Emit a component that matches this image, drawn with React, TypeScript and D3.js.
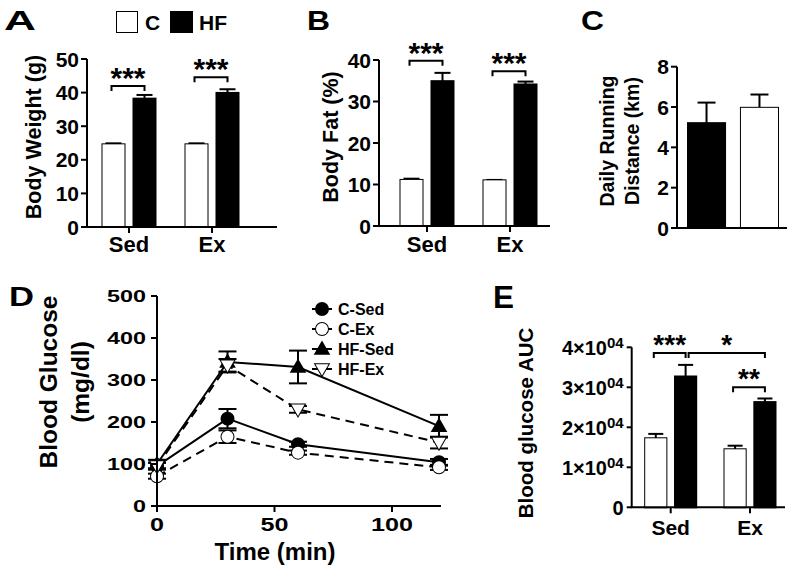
import React from "react";
import * as d3 from "d3";

const FONT = "'Liberation Sans', Arial, Helvetica, sans-serif";

// ---------- data ----------
const groups = ["Sed", "Ex"];
const diets = ["C", "HF"];

const weightC = [24.6, 24.6];
const weightCErr = [0.3, 0.3];
const weightHF = [38.2, 39.9];
const weightHFErr = [1.1, 1.1];
const weightTicks = [0, 10, 20, 30, 40, 50];

const fatC = [11.1, 11.0];
const fatCErr = [0.3, 0.1];
const fatHF = [34.9, 34.1];
const fatHFErr = [2.0, 0.7];
const fatTicks = [0, 10, 20, 30, 40];

const runGroups = ["HF", "C"];
const runMean = [5.2, 5.96];
const runErr = [1.02, 0.66];
const runTicks = [0, 2, 4, 6, 8];

const times = [0, 30, 60, 120];
const timeTicks = [0, 50, 100];
const glucoseTicks = [0, 100, 200, 300, 400, 500];
const glucSeries = ["C-Sed", "C-Ex", "HF-Sed", "HF-Ex"];
const glucCSed = [95, 208, 147, 104];
const glucCSedErr = [8, 23, 6, 8];
const glucCEx = [71, 165, 127, 92];
const glucCExErr = [6, 15, 5, 6];
const glucHFSed = [100, 343, 331, 190];
const glucHFSedErr = [10, 25, 39, 27];
const glucHFEx = [95, 335, 230, 151];
const glucHFExErr = [8, 15, 8, 14];

const aucC = [17250, 14500];
const aucCErr = [1100, 900];
const aucHF = [32700, 26300];
const aucHFErr = [2900, 900];
const aucTicks = [0, 10000, 20000, 30000, 40000];

const sigWeight = [
  { a: ["Sed", "C"], b: ["Sed", "HF"], level: 42, label: "***" },
  { a: ["Ex", "C"], b: ["Ex", "HF"], level: 44.6, label: "***" },
];
const sigFat = [
  { a: ["Sed", "C"], b: ["Sed", "HF"], level: 39.8, label: "***" },
  { a: ["Ex", "C"], b: ["Ex", "HF"], level: 37.3, label: "***" },
];
const sigAuc = [
  { a: ["Sed", "C"], b: ["Sed", "HF"], level: 38600, label: "***" },
  { a: ["Sed", "HF"], b: ["Ex", "HF"], level: 38600, label: "*" },
  { a: ["Ex", "C"], b: ["Ex", "HF"], level: 30000, label: "**" },
];

// ---------- helpers ----------
function PanelLetter({ x, y, text, size, width }: any) {
  return (
    <text x={x} y={y} fontSize={size} textLength={width} lengthAdjust="spacingAndGlyphs">
      {text}
    </text>
  );
}

function YTicks({ x, scale, ticks, fontSize, gap, fmt, tickLen = 6, charW }: any) {
  return (
    <g>
      {ticks.map((t: number) => {
        const lab = fmt ? fmt(t) : String(t);
        return (
          <g key={t}>
            <line x1={x - tickLen} x2={x} y1={scale(t)} y2={scale(t)} stroke="#000" strokeWidth={2} />
            {typeof lab === "string" ? (
              <text
                x={x - gap}
                y={scale(t)}
                dy="0.36em"
                textAnchor="end"
                fontSize={fontSize}
                {...(charW ? { textLength: lab.length * charW, lengthAdjust: "spacingAndGlyphs" } : {})}
              >
                {lab}
              </text>
            ) : (
              <text x={x - gap} y={scale(t)} dy="0.36em" textAnchor="end" fontSize={fontSize}>
                {lab}
              </text>
            )}
          </g>
        );
      })}
    </g>
  );
}

function RotLabel({ x, y, text, size }: any) {
  return (
    <text transform={`translate(${x},${y}) rotate(-90)`} textAnchor="middle" dy="0.36em" fontSize={size}>
      {text}
    </text>
  );
}

function BarGroupPanel({ L, cMean, cErr, hfMean, hfErr, ticks, sig, fmt, tickFont, sigFont, catFont, catBase, cap }: any) {
  const y = d3.scaleLinear().domain([0, L.max]).range([L.y0, L.y1]);
  const x = d3.scalePoint().domain(groups).range([L.c0, L.c1]);
  const inner = d3.scaleBand().domain(diets).range([-L.half, L.half]).paddingInner(L.pad);
  const bw = inner.bandwidth();
  const cx = (g: string, d: string) => (x(g) as number) + (inner(d) as number) + bw / 2;
  const bars = groups.flatMap((g, i) =>
    diets.map((d) => ({ g, d, v: d === "C" ? cMean[i] : hfMean[i], e: d === "C" ? cErr[i] : hfErr[i] }))
  );
  return (
    <g>
      {bars.map((b) => {
        const c = cx(b.g, b.d);
        return (
          <g key={b.g + b.d}>
            <line x1={c} x2={c} y1={y(b.v)} y2={y(b.v + b.e)} stroke="#000" strokeWidth={2} />
            <line x1={c - cap / 2} x2={c + cap / 2} y1={y(b.v + b.e)} y2={y(b.v + b.e)} stroke="#000" strokeWidth={2} />
            <rect
              x={c - bw / 2}
              y={y(b.v)}
              width={bw}
              height={y(0) - y(b.v)}
              fill={b.d === "C" ? "#fff" : "#000"}
              stroke="#000"
              strokeWidth={2}
            />
          </g>
        );
      })}
      <line x1={L.axisX} x2={L.axisX} y1={y(L.max)} y2={y(0)} stroke="#000" strokeWidth={2} />
      <line x1={L.axisX - 1} x2={L.axisEnd} y1={y(0)} y2={y(0)} stroke="#000" strokeWidth={2} />
      <YTicks x={L.axisX} scale={y} ticks={ticks} fontSize={tickFont} gap={L.gap} fmt={fmt} tickLen={L.tickLen ?? 6} />
      {groups.map((g) => (
        <g key={g}>
          <line x1={x(g)} x2={x(g)} y1={y(0)} y2={y(0) + 6} stroke="#000" strokeWidth={2} />
          <text x={x(g)} y={catBase} textAnchor="middle" fontSize={catFont}>
            {g}
          </text>
        </g>
      ))}
      {sig.map((s: any, i: number) => {
        const x1 = cx(s.a[0], s.a[1]) - 2 + (s.a[1] === "HF" ? 5 : 0);
        const x2 = cx(s.b[0], s.b[1]);
        const yy = y(s.level);
        return (
          <g key={i}>
            <path d={`M${x1},${yy + 5}V${yy}H${x2}V${yy + 5}`} fill="none" stroke="#000" strokeWidth={2} />
            <text x={(x1 + x2) / 2} y={yy - 15 + 0.56 * sigFont} textAnchor="middle" fontSize={sigFont}>
              {s.label}
            </text>
          </g>
        );
      })}
    </g>
  );
}

function PanelA() {
  const L = { axisX: 87, axisEnd: 277, y0: 227, y1: 59, max: 50, c0: 129, c1: 212, half: 26.5, pad: 0.29, gap: 8 };
  return (
    <g>
      <PanelLetter x={4} y={30} text="A" size={28} width={32} />
      <rect x={117} y={12} width={20} height={20} fill="#fff" stroke="#000" strokeWidth={2} />
      <text x={145} y={30} fontSize={21}>C</text>
      <rect x={171} y={12} width={21} height={20} fill="#000" stroke="#000" strokeWidth={2} />
      <text x={199} y={30} fontSize={21}>HF</text>
      <RotLabel x={33} y={137} text="Body Weight (g)" size={21.5} />
      <BarGroupPanel
        L={L}
        cMean={weightC}
        cErr={weightCErr}
        hfMean={weightHF}
        hfErr={weightHFErr}
        ticks={weightTicks}
        sig={sigWeight}
        tickFont={21}
        sigFont={30}
        catFont={22}
        catBase={252}
        cap={16}
      />
    </g>
  );
}

function PanelB() {
  const L = { axisX: 379, axisEnd: 550, y0: 226, y1: 60, max: 40, c0: 427, c1: 510, half: 26.5, pad: 0.29, gap: 8 };
  return (
    <g>
      <PanelLetter x={307} y={30} text="B" size={28} width={23} />
      <RotLabel x={330} y={137} text="Body Fat (%)" size={21.5} />
      <BarGroupPanel
        L={L}
        cMean={fatC}
        cErr={fatCErr}
        hfMean={fatHF}
        hfErr={fatHFErr}
        ticks={fatTicks}
        sig={sigFat}
        tickFont={21}
        sigFont={30}
        catFont={22}
        catBase={252}
        cap={16}
      />
    </g>
  );
}

function PanelC() {
  const y = d3.scaleLinear().domain([0, 8]).range([228, 66.7]);
  const x = d3.scaleBand().domain(runGroups).range([688, 778]).paddingInner(0.3);
  const bw = x.bandwidth();
  return (
    <g>
      <PanelLetter x={581} y={30} text="C" size={28} width={23} />
      <RotLabel x={607} y={141} text="Daily Running" size={19.5} />
      <RotLabel x={632} y={141} text="Distance (km)" size={19.5} />
      {runGroups.map((g, i) => {
        const c = (x(g) as number) + bw / 2;
        return (
          <g key={g}>
            <line x1={c} x2={c} y1={y(runMean[i])} y2={y(runMean[i] + runErr[i])} stroke="#000" strokeWidth={2} />
            <line x1={c - 9} x2={c + 9} y1={y(runMean[i] + runErr[i])} y2={y(runMean[i] + runErr[i])} stroke="#000" strokeWidth={2} />
            <rect
              x={x(g)}
              y={y(runMean[i])}
              width={bw}
              height={y(0) - y(runMean[i])}
              fill={g === "C" ? "#fff" : "#000"}
              stroke="#000"
              strokeWidth={2}
            />
          </g>
        );
      })}
      <line x1={677} x2={677} y1={y(8)} y2={y(0)} stroke="#000" strokeWidth={2} />
      <line x1={676} x2={787} y1={y(0)} y2={y(0)} stroke="#000" strokeWidth={2} />
      <YTicks x={677} scale={y} ticks={runTicks} fontSize={21} gap={8} />
    </g>
  );
}

function PanelD() {
  const x = d3.scaleLinear().domain([0, 120]).range([157, 439]);
  const y = d3.scaleLinear().domain([0, 500]).range([506, 296]);
  const series = [
    { name: glucSeries[0], v: glucCSed, e: glucCSedErr, dash: false, shape: "circle", fill: true },
    { name: glucSeries[1], v: glucCEx, e: glucCExErr, dash: true, shape: "circle", fill: false },
    { name: glucSeries[2], v: glucHFSed, e: glucHFSedErr, dash: false, shape: "tri", fill: true },
    { name: glucSeries[3], v: glucHFEx, e: glucHFExErr, dash: true, shape: "triDown", fill: false },
  ];
  const line = d3.line<number>().x((_, i) => x(times[i])).y((d) => y(d));
  const tri = d3.symbol(d3.symbolTriangle, 75)() as string;
  const marker = (s: any, cx: number, cy: number, k: string) => {
    const fill = s.fill ? "#000" : "#fff";
    if (s.shape === "circle")
      return <circle key={k} cx={cx} cy={cy} r={6} fill={fill} stroke="#000" strokeWidth={2} />;
    return (
      <path
        key={k}
        d={tri}
        transform={`translate(${cx},${cy + (s.shape === "tri" ? 1 : -1)}) rotate(${s.shape === "tri" ? 0 : 180})`}
        fill={fill}
        stroke="#000"
        strokeWidth={2}
      />
    );
  };
  const legendRows = [309, 329, 349, 369];
  return (
    <g>
      <PanelLetter x={9} y={306} text="D" size={28} width={25} />
      <RotLabel x={48} y={382} text="Blood Glucose" size={24.5} />
      <RotLabel x={80} y={382} text="(mg/dl)" size={24.5} />
      {series.map((s) => (
        <g key={s.name}>
          {s.v.map((v, i) => (
            <g key={i}>
              <line x1={x(times[i])} x2={x(times[i])} y1={y(v - s.e[i])} y2={y(v + s.e[i])} stroke="#000" strokeWidth={2} />
              <line x1={x(times[i]) - 9} x2={x(times[i]) + 9} y1={y(v + s.e[i])} y2={y(v + s.e[i])} stroke="#000" strokeWidth={2} />
              <line x1={x(times[i]) - 9} x2={x(times[i]) + 9} y1={y(v - s.e[i])} y2={y(v - s.e[i])} stroke="#000" strokeWidth={2} />
            </g>
          ))}
        </g>
      ))}
      {series.map((s) => (
        <path key={s.name} d={line(s.v) as string} fill="none" stroke="#000" strokeWidth={2} strokeDasharray={s.dash ? "9,6" : undefined} />
      ))}
      {series.map((s) => (
        <g key={s.name}>{s.v.map((v, i) => marker(s, x(times[i]), y(v), s.name + i))}</g>
      ))}
      <line x1={157} x2={157} y1={y(500)} y2={y(0)} stroke="#000" strokeWidth={2} />
      <line x1={156} x2={441} y1={y(0)} y2={y(0)} stroke="#000" strokeWidth={2} />
      <YTicks x={157} scale={y} ticks={glucoseTicks} fontSize={17} gap={11} charW={13} />
      {timeTicks.map((t) => (
        <g key={t}>
          <line x1={x(t)} x2={x(t)} y1={y(0)} y2={y(0) + 6} stroke="#000" strokeWidth={2} />
          <text
            x={x(t)}
            y={531}
            textAnchor="middle"
            fontSize={18}
            textLength={String(t).length * 14}
            lengthAdjust="spacingAndGlyphs"
          >
            {t}
          </text>
        </g>
      ))}
      <text x={275} y={560} textAnchor="middle" fontSize={24}>
        Time (min)
      </text>
      {series.map((s, i) => (
        <g key={s.name}>
          <line x1={312} x2={332} y1={legendRows[i]} y2={legendRows[i]} stroke="#000" strokeWidth={2} />
          {marker(s, 322, legendRows[i], "lg" + i)}
          <text x={338} y={legendRows[i]} dy="0.36em" fontSize={16}>
            {s.name}
          </text>
        </g>
      ))}
    </g>
  );
}

function PanelE() {
  const L = { axisX: 631.7, axisEnd: 785, y0: 507.3, y1: 347.3, max: 40000, c0: 670.7, c1: 750, half: 25.5, pad: 0.29, gap: 8, tickLen: 5 };
  const fmt = (v: number) =>
    v === 0 ? (
      "0"
    ) : (
      <>
        <tspan>{`${v / 10000}×10`}</tspan>
        <tspan dy={-7} fontSize={15}>
          04
        </tspan>
      </>
    );
  return (
    <g>
      <PanelLetter x={493} y={308} text="E" size={31} width={21} />
      <RotLabel x={526} y={423} text="Blood glucose AUC" size={20.5} />
      <BarGroupPanel
        L={L}
        cMean={aucC}
        cErr={aucCErr}
        hfMean={aucHF}
        hfErr={aucHFErr}
        ticks={aucTicks}
        sig={sigAuc}
        fmt={fmt}
        tickFont={20}
        sigFont={28}
        catFont={21}
        catBase={535}
        cap={15}
      />
    </g>
  );
}

export default function App() {
  return (
    <svg
      width={795}
      height={572}
      style={{ position: "absolute", left: 0, top: 0, background: "#fff" }}
      fontFamily={FONT}
      fontWeight="bold"
      stroke="none"
    >
      <rect width={795} height={572} fill="#fff" />
      <g style={{ paintOrder: "stroke" }}>
        <PanelA />
        <PanelB />
        <PanelC />
        <PanelD />
        <PanelE />
      </g>
    </svg>
  );
}
